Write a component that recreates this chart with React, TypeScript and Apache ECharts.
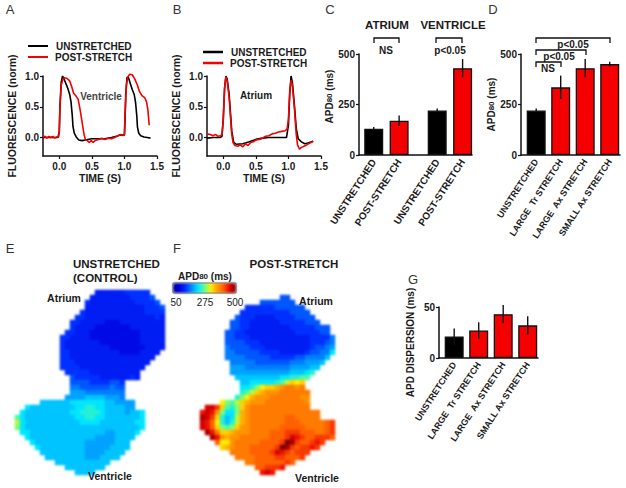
import React, { useEffect, useRef } from "react";
import * as echarts from "echarts";

const FONT = "Liberation Sans, Arial, sans-serif";
const INK = "#1a1a1a";
const RED = "#f40000";

const aBlack = [[-0.25,0],[-0.1,0],[-0.02,0],[0,0.1],[0.01,0.5],[0.03,0.9],[0.05,1],[0.07,0.96],[0.1,0.88],[0.13,0.8],[0.16,0.7],[0.18,0.58],[0.2,0.35],[0.21,0.18],[0.23,0.07],[0.26,0.01],[0.3,-0.04],[0.35,-0.05],[0.4,-0.04],[0.5,-0.02],[0.6,-0.02],[0.7,-0.02],[0.8,0],[0.88,0.02],[0.93,0.04],[1,0.04],[1.01,0.3],[1.02,0.7],[1.04,0.98],[1.06,0.98],[1.09,0.88],[1.12,0.78],[1.15,0.7],[1.17,0.58],[1.19,0.35],[1.2,0.17],[1.22,0.07],[1.25,0.03],[1.3,0.01],[1.35,0],[1.4,-0.01]];
const aRed = [[-0.25,0.01],[-0.22,0.02],[-0.19,-0.01],[-0.16,0.02],[-0.13,0],[-0.1,0.02],[-0.07,-0.01],[-0.04,0.01],[-0.01,0.01],[0,0.1],[0.01,0.5],[0.03,0.85],[0.05,0.93],[0.08,0.97],[0.12,0.96],[0.16,0.92],[0.19,0.83],[0.22,0.72],[0.26,0.67],[0.29,0.62],[0.32,0.45],[0.35,0.25],[0.38,0.05],[0.4,-0.03],[0.43,-0.05],[0.46,-0.08],[0.49,-0.05],[0.52,-0.08],[0.55,-0.05],[0.6,-0.03],[0.65,-0.01],[0.7,-0.03],[0.75,-0.01],[0.8,-0.02],[0.85,0],[0.9,0.03],[0.95,0.05],[0.98,0.03],[1,0.05],[1.01,0.4],[1.03,0.85],[1.05,0.98],[1.08,1.03],[1.12,1.02],[1.16,0.95],[1.2,0.85],[1.23,0.75],[1.27,0.68],[1.31,0.65],[1.34,0.58],[1.36,0.45],[1.38,0.2]];
const bBlack = [[-0.25,-0.01],[-0.15,0],[-0.05,0],[-0.02,0.02],[0,0.3],[0.02,0.8],[0.04,1],[0.06,0.95],[0.09,0.7],[0.11,0.4],[0.13,0.1],[0.16,-0.08],[0.2,-0.11],[0.3,-0.1],[0.4,-0.07],[0.5,-0.03],[0.6,-0.01],[0.7,0],[0.8,0],[0.9,0],[0.97,0],[1,0.2],[1.02,0.7],[1.04,1],[1.06,0.9],[1.09,0.55],[1.12,0.15],[1.15,-0.02],[1.2,-0.07],[1.25,-0.1],[1.3,-0.09],[1.38,-0.06]];
const bRed = [[-0.25,0.06],[-0.2,0.05],[-0.16,0.03],[-0.12,0.05],[-0.08,0.02],[-0.04,0.03],[-0.02,0.05],[0,0.3],[0.02,0.8],[0.04,0.99],[0.06,0.92],[0.09,0.65],[0.11,0.35],[0.13,0.05],[0.15,-0.08],[0.18,-0.13],[0.22,-0.14],[0.26,-0.12],[0.3,-0.15],[0.34,-0.1],[0.38,-0.13],[0.42,-0.08],[0.46,-0.07],[0.5,-0.04],[0.55,-0.03],[0.6,-0.01],[0.65,0.02],[0.7,0.03],[0.75,0.06],[0.8,0.07],[0.85,0.09],[0.9,0.1],[0.95,0.11],[0.98,0.14],[1,0.3],[1.02,0.75],[1.04,0.93],[1.06,0.85],[1.09,0.5],[1.12,0.05],[1.14,-0.12],[1.17,-0.19],[1.2,-0.16],[1.24,-0.14],[1.28,-0.12],[1.33,-0.09],[1.38,-0.06]];

const cLabels = ["UNSTRETCHED", "POST-STRETCH", "UNSTRETCHED", "POST-STRETCH"];
const cPositions = [1, 2, 3.5, 4.5];
const cValues = [130, 170, 220, 430];
const cErrors = [8, 26, 10, 45];
const cColors = ["#000", RED, "#000", RED];

const dLabels = ["UNSTRETCHED", "LARGE  Tr STRETCH", "LARGE  Ax STRETCH", "SMALL Ax STRETCH"];
const dPositions = [1, 2, 3, 4];
const dValues = [220, 335, 430, 450];
const dErrors = [10, 58, 45, 12];
const gValues = [21, 27, 43, 32];
const gErrors = [8, 8, 9, 9];
const stretchColors = ["#000", RED, RED, RED];

// Each character is one map cell: a = 50 ms ... z = 500 ms, in 18 ms steps; a space is outside the tissue.
const mapE = [
"                eeeeeefffff   ",
"               eeeeeeeeffffg  ",
"              feeeeeeeeeffffg ",
"              eeeeeeeeeeeefffg",
"             feeeeeeeeeeeeffff",
"            ffeeeeeeeeeeeeeefe",
"           ffeeeeedddeeeeeeeee",
"           feeeedddddddeeeeeee",
"          ffeeeddddddddddeeeee",
"         ffeeeeddddddddddeeeee",
"         feeeeeeeddddddddeeeee",
"         feeeeeeeeedddddddeeee",
"         ffeeeeeeeeeeddddeeee ",
"         ffeeeeeeeeeeeeeeeee  ",
"         fffeeeeeeeeeeeeeee   ",
"         ffffeeeeeeeeeeeee    ",
"          fffffeeeeeeeeee     ",
"           gfffffeeeeeefe     ",
"           ggggffffggf        ",
"           hhgggggghgg        ",
"           iiihhhhhhhh        ",
"          iiiijjjjiiih        ",
"     jjjjjjkkkkkkkjjiiii      ",
"  kjjjjjjjjjkkllkkjjjjii      ",
" kjjjjjjjjjkkllllkjjjjijjk    ",
"mkjjjjjjjjjjkkllkkjjjjjjjk    ",
"okjjjjjjjjjjjkkkkjjjjjjjkk    ",
"nkjjjjjjjjjjjjjjjjjjjjjjjk    ",
" kkjjjjjjjjjjjjjjjiijjjjk     ",
"  kjjjjjjjjjjjjjiiiijjjj      ",
"   kjjjjjjjjjjiiiiiijjj       ",
"    kjjjjjjjjjiiiiijjjj       ",
"     jjjjjjjjjiiiijjjj        ",
"      jjjjjjjjiiijjjj         ",
"        jjjjjjjjjjj           ",
"          jjjjjjjj            ",
"            jjjj              ",
];

const mapF = [
"                gg         ",
"            ggggggg        ",
"         ffffffgggggg      ",
"        ffffffffffgggg     ",
"       gfffeeeeffffgggg    ",
"      ggffeeeeeefffffggg   ",
"      ggffeeeeeeeefffffggg ",
"     ggffeeeeeeeeeefffffgg ",
"     ggfffeeeeeeeeeeeeffffh",
"     ggggfffeeeeeeeeeefffgh",
"     hggggfffeeeeeeeeefgghi",
"     hhgggggffffeeeeefgghhk",
"     hhhhgggggfffffgghhhhj ",
"      hhhhhggggggghhhiiij  ",
"      iiihhhhhhhhhiiiijj   ",
"      iiiiiiiiiiiijjjkl    ",
"       jjjjjjjjjkkllmm     ",
"        jjkkkkklmoqpq      ",
"        kklnpqqrsttst      ",
"        lmoqrssstttttt     ",
"       lnprsssttttttss     ",
"    pnmoqrssstttttttts     ",
" xxvqmlnqstttttttttttt     ",
"wxwsnkknrstttttttttttttt   ",
"yxvqljkorstttttttuuttttt   ",
"xwupljlorstttttttuuutttttuv",
"xwuqnmnqssttttttuuuuuttttuv",
" ywtqqrsssttttuuuvvvuuuttuv",
"  ywsrssttttttuuuvxwvuuvvvu",
"   uppstttttuuuuvzyvuuvwv  ",
"    qrstttuuuuuvzyvuvvwv   ",
"      ttttuuuuvxwvuvvv     ",
"       ttttuuuuvvuuuv      ",
"         ttuuuuuuvu        ",
"           uuvvvw          ",
"            wxw            ",
];

const colorStops = ["#0000a0","#0000e0","#0030ff","#0090ff","#00e6ff","#60ff90","#fff000","#ffa000","#ff6000","#e80000","#780000"];

const cells = (rows: string[]) => {
  const out: number[][] = [];
  rows.forEach((row, r) => {
    for (let c = 0; c < row.length; c++) {
      if (row[c] !== " ") out.push([c, r, 50 + (row.charCodeAt(c) - 97) * 18]);
    }
  });
  return out;
};
const indices = (n: number) => Array.from({ length: n }, (_, i) => String(i));

const sub = { a: { fontSize: 10, fontWeight: "bold", fontFamily: FONT, color: INK }, b: { fontSize: 8, fontWeight: "bold", fontFamily: FONT, color: INK } };
const apdName = "{a|APD}{b|80}{a| (ms)}";

const T = (x: number, y: number, text: string, fontSize = 10, extra: any = {}) => ({
  type: "text", x, y, silent: true,
  style: { text, fontSize, fontWeight: "bold", fontFamily: FONT, fill: INK, textAlign: "center", textVerticalAlign: "middle", ...extra },
});
const L = (x1: number, y1: number, x2: number, y2: number, stroke: string, lineWidth: number) => ({
  type: "line", silent: true, shape: { x1, y1, x2, y2 }, style: { stroke, lineWidth },
});
const bracket = (x1: number, x2: number, top: number, bottom: number) => ({
  type: "polyline", silent: true,
  shape: { points: [[x1, bottom], [x1, top], [x2, top], [x2, bottom]] },
  style: { stroke: "#111", lineWidth: 1.3, fill: "none" },
});

const axisBase = {
  axisLine: { show: true, onZero: false, lineStyle: { color: "#111", width: 1.5 } },
  axisTick: { show: true, length: 3, lineStyle: { color: "#111", width: 1.2 } },
  splitLine: { show: false },
};
const tickFont = { fontSize: 10, fontWeight: "bold", fontFamily: FONT, color: INK };

const traceX = (gridIndex: number) => ({
  ...axisBase, type: "value", gridIndex, min: -0.25, max: 1.5,
  name: "TIME (S)", nameLocation: "middle", nameGap: 16,
  nameTextStyle: { fontSize: 10.5, fontWeight: "bold", fontFamily: FONT, color: INK },
  axisTick: { ...axisBase.axisTick, customValues: [0, 0.5, 1, 1.5] },
  axisLabel: { ...tickFont, margin: 5, customValues: [0, 0.5, 1, 1.5], formatter: (v: number) => v.toFixed(1) },
});
const traceY = (gridIndex: number) => ({
  ...axisBase, type: "value", gridIndex, min: -0.3, max: 1,
  name: "FLUORESCENCE (norm)", nameLocation: "middle", nameGap: 26,
  nameTextStyle: { fontSize: 10.5, fontWeight: "bold", fontFamily: FONT, color: INK },
  axisTick: { ...axisBase.axisTick, customValues: [0, 0.5, 1] },
  axisLabel: { ...tickFont, margin: 4, customValues: [0, 0.5, 1], formatter: (v: number) => v.toFixed(1) },
});
const barX = (gridIndex: number, min: number, max: number, positions: number[], labels: string[], fontSize: number) => ({
  ...axisBase, type: "value", gridIndex, min, max,
  axisTick: { show: false },
  axisLabel: {
    fontSize, fontWeight: "bold", fontFamily: FONT, color: INK, rotate: 57, margin: 5, hideOverlap: false,
    customValues: positions,
    formatter: (v: number) => labels[positions.indexOf(v)] ?? "",
  },
});
const barY = (gridIndex: number, max: number, interval: number, name: string, nameGap: number, rich: any, padding: number[]) => ({
  ...axisBase, type: "value", gridIndex, min: 0, max, interval,
  name, nameLocation: "middle", nameGap,
  nameTextStyle: { fontSize: 10, fontWeight: "bold", fontFamily: FONT, color: INK, rich, padding },
  axisLabel: { ...tickFont, margin: 4 },
});

const traceSeries = (idx: number, data: number[][], color: string, width: number) => ({
  type: "line", xAxisIndex: idx, yAxisIndex: idx, data, showSymbol: false, clip: false,
  lineStyle: { color, width }, silent: true,
});
const barSeries = (idx: number, positions: number[], values: number[], colors: string[], barWidth: number) => ({
  type: "bar", xAxisIndex: idx, yAxisIndex: idx, barWidth, silent: true,
  data: values.map((v, i) => ({ value: [positions[i], v], itemStyle: { color: colors[i], borderColor: "#111", borderWidth: 1.3 } })),
});
const errorSeries = (idx: number, positions: number[], values: number[], errors: number[]) => ({
  type: "custom", xAxisIndex: idx, yAxisIndex: idx, silent: true, clip: false, z: 5,
  encode: { x: 0, y: [1, 2] },
  data: values.map((v, i) => [positions[i], v - errors[i], v + errors[i]]),
  renderItem: (_: any, api: any) => {
    const a = api.coord([api.value(0), api.value(1)]);
    const b = api.coord([api.value(0), api.value(2)]);
    return { type: "line", shape: { x1: a[0], y1: a[1], x2: b[0], y2: b[1] }, style: { stroke: "#111", lineWidth: 1.4 } };
  },
});
const heatSeries = (idx: number, rows: string[]) => ({
  type: "heatmap", xAxisIndex: idx, yAxisIndex: idx, data: cells(rows), silent: true,
  itemStyle: { borderWidth: 0 }, emphasis: { disabled: true }, progressive: 0,
});
const heatX = (gridIndex: number, n: number) => ({ type: "category", gridIndex, data: indices(n), show: false });
const heatY = (gridIndex: number, n: number) => ({ type: "category", gridIndex, data: indices(n), show: false, inverse: true });

export default function App() {
  const ref = useRef<HTMLDivElement>(null);
  const heatRef = useRef<HTMLDivElement>(null);
  useEffect(() => {
    const heat = echarts.init(heatRef.current!, undefined, { renderer: "svg" });
    heat.setOption({
      animation: false,
      grid: [
        { left: 15, top: 290, width: 150, height: 185 },
        { left: 200, top: 295, width: 135, height: 180 },
      ],
      xAxis: [heatX(0, 30), heatX(1, 27)],
      yAxis: [heatY(0, 37), heatY(1, 36)],
      visualMap: {
        type: "continuous", min: 50, max: 500, seriesIndex: [0, 1], orient: "horizontal",
        left: 173, top: 283, itemWidth: 10, itemHeight: 63, padding: 0, calculable: false, hoverLink: false,
        inRange: { color: colorStops },
      },
      series: [heatSeries(0, mapE), heatSeries(1, mapF)],
    });
    const chart = echarts.init(ref.current!, undefined, { renderer: "svg" });
    const series: any[] = [
      traceSeries(0, aBlack, "#000", 1.6),
      traceSeries(0, aRed, RED, 1.6),
      traceSeries(1, bBlack, "#000", 1.6),
      traceSeries(1, bRed, RED, 1.6),
      barSeries(2, cPositions, cValues, cColors, 19),
      errorSeries(2, cPositions, cValues, cErrors),
      barSeries(3, dPositions, dValues, stretchColors, 19),
      errorSeries(3, dPositions, dValues, dErrors),
      barSeries(4, dPositions, gValues, stretchColors, 19),
      errorSeries(4, dPositions, gValues, gErrors),
    ];
    chart.setOption({
      animation: false,
      grid: [
        { left: 43, top: 76, width: 114, height: 80 },
        { left: 207, top: 76, width: 114, height: 80 },
        { left: 359, top: 54, width: 113, height: 101 },
        { left: 521, top: 54, width: 99, height: 101 },
        { left: 439, top: 307, width: 99, height: 51 },
      ],
      xAxis: [
        traceX(0), traceX(1),
        barX(2, 0.42, 4.87, cPositions, cLabels, 10),
        barX(3, 0.38, 4.42, dPositions, dLabels, 9),
        barX(4, 0.38, 4.42, dPositions, dLabels, 9),
      ],
      yAxis: [
        traceY(0), traceY(1),
        barY(2, 500, 250, apdName, 24, sub, [0, 0, 0, 16]),
        barY(3, 500, 250, apdName, 24, sub, [0, 0, 0, 0]),
        barY(4, 50, 50, "APD DISPERSION (ms)", 24, {}, [0, 20, 0, 0]),
      ],
      series,
      graphic: [
        T(10, 9, "A", 13, { fontWeight: "normal", fill: "#333" }),
        T(177, 9, "B", 13, { fontWeight: "normal", fill: "#333" }),
        T(330, 9, "C", 13, { fontWeight: "normal", fill: "#333" }),
        T(493, 9, "D", 13, { fontWeight: "normal", fill: "#333" }),
        T(10, 248, "E", 13, { fontWeight: "normal", fill: "#333" }),
        T(177, 248, "F", 13, { fontWeight: "normal", fill: "#333" }),
        T(413, 279, "G", 13, { fontWeight: "normal", fill: "#333" }),

        L(28, 46, 48, 46, "#000", 2),
        L(28, 57, 48, 57, RED, 2),
        T(56, 46, "UNSTRETCHED", 10, { textAlign: "left" }),
        T(55, 57, "POST-STRETCH", 10, { textAlign: "left" }),
        T(101, 96, "Ventricle", 10, { fill: "#444" }),

        L(203, 52, 223, 52, "#000", 2.5),
        L(203, 63, 223, 63, RED, 2.5),
        T(231, 52, "UNSTRETCHED", 10, { textAlign: "left" }),
        T(230, 63, "POST-STRETCH", 10, { textAlign: "left" }),
        T(256, 95, "Atrium", 10),

        T(387, 25, "ATRIUM", 11.5),
        T(453, 25, "VENTRICLE", 11.5),
        bracket(374, 399, 38, 43),
        bracket(436, 462, 38, 43),
        T(386, 50, "NS", 10),
        T(450, 50, "p<0.05", 10),

        bracket(536, 610, 38, 43),
        T(573, 44, "p<0.05", 10),
        bracket(536, 586, 50, 55),
        T(559, 56, "p<0.05", 10),
        bracket(536, 561, 62, 67),
        T(548, 68, "NS", 10),

        T(73, 264, "UNSTRETCHED", 11.5, { textAlign: "left" }),
        T(73, 278, "(CONTROL)", 11.5, { textAlign: "left" }),
        T(64, 298, "Atrium", 10.5),
        T(110, 476, "Ventricle", 10.5),

        T(294, 264, "POST-STRETCH", 11.5),
        { type: "rect", silent: true, z: 10, shape: { x: 173, y: 283, width: 63, height: 10 }, style: { fill: "none", stroke: "#555", lineWidth: 0.8 } },
        T(205, 276, "{a|APD}{b|80}{a| (ms)}", 10, { rich: sub }),
        T(176, 302, "50", 10, { fontWeight: "normal" }),
        T(205, 302, "275", 10, { fontWeight: "normal" }),
        T(235, 302, "500", 10, { fontWeight: "normal" }),
        T(316, 301, "Atrium", 10.5),
        T(317, 478, "Ventricle", 10.5),
      ],
    });
    return () => { chart.dispose(); heat.dispose(); };
  }, []);
  return (
    <div style={{ position: "absolute", left: 0, top: 0, width: 626, height: 488, background: "#fff", overflow: "hidden" }}>
      <div ref={heatRef} style={{ position: "absolute", left: 0, top: 0, width: 626, height: 488, filter: "blur(1px)" }} />
      <div ref={ref} style={{ position: "absolute", left: 0, top: 0, width: 626, height: 488 }} />
    </div>
  );
}
